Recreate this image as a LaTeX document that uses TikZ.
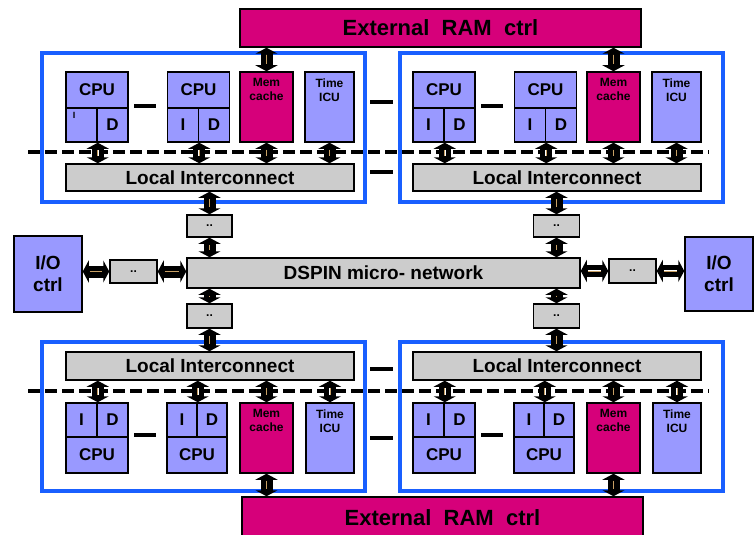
\documentclass[tikz,border=0pt]{standalone}
\usepackage{fontspec}
\setmainfont{Liberation Sans}
\usetikzlibrary{arrows.meta}

\definecolor{cpufill}{RGB}{153,153,255}
\definecolor{memfill}{RGB}{214,0,122}
\definecolor{netfill}{RGB}{204,204,204}
\definecolor{clusterblue}{RGB}{25,95,255}
\definecolor{wirecore}{RGB}{200,160,100}

\tikzset{
	box/.style={draw=black, line width=1.5pt, inner sep=0pt, font=\bfseries},
	cpu/.style={box, fill=cpufill},
	mem/.style={box, fill=memfill},
	net/.style={box, fill=netfill},
	link/.style={line width=12pt, {Triangle[width=22pt,length=6pt]}-{Triangle[width=22pt,length=6pt]},
		postaction={draw=white, line width=1.8pt, -, shorten <=7pt, shorten >=7pt},
		postaction={draw=wirecore, line width=0.8pt, -, shorten <=7pt, shorten >=7pt}},
	tag/.style={font=\bfseries\fontsize{12}{14}\selectfont, align=center, anchor=north, inner sep=0pt, yshift=-7pt},
	cluster/.style={draw=clusterblue, line width=3.5pt},
	sep/.style={line width=3.5pt},
	busline/.style={line width=3.5pt, dash pattern=on 12pt off 5pt}
}

\begin{document}
\begin{tikzpicture}[x=1pt, y=-1pt]
\useasboundingbox (0,0) rectangle (756,535);

% external memory controllers
\node[mem, minimum width=401, minimum height=38, font=\bfseries\fontsize{22}{24}\selectfont] (ramtop) at (440.5,28) {External~~RAM~~ctrl};
\node[mem, minimum width=401, minimum height=42, font=\bfseries\fontsize{22}{24}\selectfont] (rambot) at (442.5,518) {External~~RAM~~ctrl};

% dashed bus lines
\draw[busline] (28,152) -- (709,152);
\draw[busline] (28,391) -- (709,391);

% upper clusters
\foreach \p/\dx/\bx in {L/0/0, R/347/358} {
	\draw[cluster] (42+\bx,53) rectangle (365+\bx,202);
	\node[cpu, minimum width=62, minimum height=36, font=\bfseries\fontsize{17}{19}\selectfont] (ucpua\p) at (97+\dx,90) {CPU};
	\node[cpu, minimum width=31, minimum height=34] (ucpuaI\p) at (81.5+\dx,125) {};
	\node[cpu, minimum width=31, minimum height=34, font=\bfseries\fontsize{17}{19}\selectfont] (ucpuaD\p) at (112.5+\dx,125) {D};
	\node[cpu, minimum width=62, minimum height=36, font=\bfseries\fontsize{17}{19}\selectfont] (ucpub\p) at (198.5+\dx,90) {CPU};
	\node[cpu, minimum width=31, minimum height=34, font=\bfseries\fontsize{17}{19}\selectfont] (ucpubI\p) at (183+\dx,125) {I};
	\node[cpu, minimum width=31, minimum height=34, font=\bfseries\fontsize{17}{19}\selectfont] (ucpubD\p) at (214+\dx,125) {D};
	\node[mem, minimum width=53, minimum height=70] (umem\p) at (266.5+\dx,107) {};
	\node[tag] at (umem\p.north) {Mem\\cache};
	\node[cpu, minimum width=49, minimum height=70] (utime\p) at (329.5+\dx,107) {};
	\node[tag] at (utime\p.north) {Time\\ICU};
	\node[net, minimum width=288, minimum height=27, font=\bfseries\fontsize{19}{21}\selectfont] (uli\p) at (210+\dx,177.5) {Local Interconnect};
	\draw[sep] (134+\dx,106) -- (156+\dx,106);
	\draw[link] (ucpuaI\p.south east) -- (ucpuaI\p.south east |- uli\p.north);
	\draw[link] (ucpubI\p.south east) -- (ucpubI\p.south east |- uli\p.north);
	\draw[link] (umem\p.south) -- (umem\p.south |- uli\p.north);
	\draw[link] (utime\p.south) -- (utime\p.south |- uli\p.north);
}
\node[font=\bfseries\fontsize{9}{10}\selectfont] at (74,115) {I};
\node[font=\bfseries\fontsize{17}{19}\selectfont] at (428.5,125) {I};

% lower clusters
\foreach \p/\dx/\bx in {L/0/0, R/347/358} {
	\draw[cluster] (42+\bx,342) rectangle (365+\bx,491);
	\node[net, minimum width=288, minimum height=28, font=\bfseries\fontsize{19}{21}\selectfont] (lli\p) at (210+\dx,366) {Local Interconnect};
	\node[cpu, minimum width=31, minimum height=34, font=\bfseries\fontsize{17}{19}\selectfont] (lcpuaI\p) at (81.5+\dx,420) {I};
	\node[cpu, minimum width=31, minimum height=34, font=\bfseries\fontsize{17}{19}\selectfont] (lcpuaD\p) at (112.5+\dx,420) {D};
	\node[cpu, minimum width=62, minimum height=36, font=\bfseries\fontsize{17}{19}\selectfont] (lcpua\p) at (97+\dx,455) {CPU};
	\node[cpu, minimum width=30, minimum height=34, font=\bfseries\fontsize{17}{19}\selectfont] (lcpubI\p) at (182+\dx,420) {I};
	\node[cpu, minimum width=30, minimum height=34, font=\bfseries\fontsize{17}{19}\selectfont] (lcpubD\p) at (212+\dx,420) {D};
	\node[cpu, minimum width=60, minimum height=36, font=\bfseries\fontsize{17}{19}\selectfont] (lcpub\p) at (197+\dx,455) {CPU};
	\node[mem, minimum width=53, minimum height=70] (lmem\p) at (266.5+\dx,438) {};
	\node[tag] at (lmem\p.north) {Mem\\cache};
	\node[cpu, minimum width=48, minimum height=70] (ltime\p) at (330+\dx,438) {};
	\node[tag] at (ltime\p.north) {Time\\ICU};
	\draw[sep] (134+\dx,435) -- (156+\dx,435);
	\draw[link] (lcpuaI\p.north east |- lli\p.south) -- (lcpuaI\p.north east);
	\draw[link] (lcpubI\p.north east |- lli\p.south) -- (lcpubI\p.north east);
	\draw[link] (lmem\p.north |- lli\p.south) -- (lmem\p.north);
	\draw[link] (ltime\p.north |- lli\p.south) -- (ltime\p.north);
}

% replication marks between clusters
\draw[sep] (370,102) -- (393,102);
\draw[sep] (370,172) -- (393,172);
\draw[sep] (370,369) -- (393,369);
\draw[sep] (370,438) -- (393,438);

% memory links
\draw[link] (ramtop.south -| umemL.north) -- (umemL.north);
\draw[link] (ramtop.south -| umemR.north) -- (umemR.north);
\draw[link] (lmemL.south) -- (lmemL.south |- rambot.north);
\draw[link] (lmemR.south) -- (lmemR.south |- rambot.north);

% network and routers
\node[net, minimum width=393, minimum height=30, font=\bfseries\fontsize{19}{21}\selectfont] (dspin) at (383.5,273) {DSPIN micro- network};
\node[net, minimum width=45, minimum height=22, font=\bfseries\fontsize{12}{13}\selectfont] (rtl) at (209.5,226) {..};
\node[net, minimum width=46, minimum height=22, font=\bfseries\fontsize{12}{13}\selectfont] (rtr) at (556.5,226) {..};
\node[net, minimum width=45, minimum height=24, font=\bfseries\fontsize{12}{13}\selectfont] (rbl) at (209.5,316) {..};
\node[net, minimum width=46, minimum height=24, font=\bfseries\fontsize{12}{13}\selectfont] (rbr) at (556.5,316) {..};
\node[net, minimum width=47, minimum height=23, font=\bfseries\fontsize{12}{13}\selectfont] (rl) at (133.5,271.5) {..};
\node[net, minimum width=47, minimum height=24, font=\bfseries\fontsize{12}{13}\selectfont] (rr) at (632.5,271) {..};
\node[cpu, minimum width=68, minimum height=76, align=center, font=\bfseries\fontsize{19}{22}\selectfont] (iol) at (48,274) {I/O\\ctrl};
\node[cpu, minimum width=68, minimum height=74, align=center, font=\bfseries\fontsize{19}{22}\selectfont] (ior) at (719,274) {I/O\\ctrl};

\draw[link] (uliL.south -| rtl.north) -- (rtl.north);
\draw[link] (rtl.south) -- (rtl.south |- dspin.north);
\draw[link] (uliR.south -| rtr.north) -- (rtr.north);
\draw[link] (rtr.south) -- (rtr.south |- dspin.north);
\draw[link] (dspin.south -| rbl.north) -- (rbl.north);
\draw[link] (rbl.south) -- (rbl.south |- lliL.north);
\draw[link] (dspin.south -| rbr.north) -- (rbr.north);
\draw[link] (rbr.south) -- (rbr.south |- lliR.north);
\draw[link] (iol.east |- rl.west) -- (rl.west);
\draw[link] (rl.east) -- (rl.east -| dspin.west);
\draw[link] (dspin.east |- rr.west) -- (rr.west);
\draw[link] (rr.east) -- (rr.east -| ior.west);
\end{tikzpicture}
\end{document}
